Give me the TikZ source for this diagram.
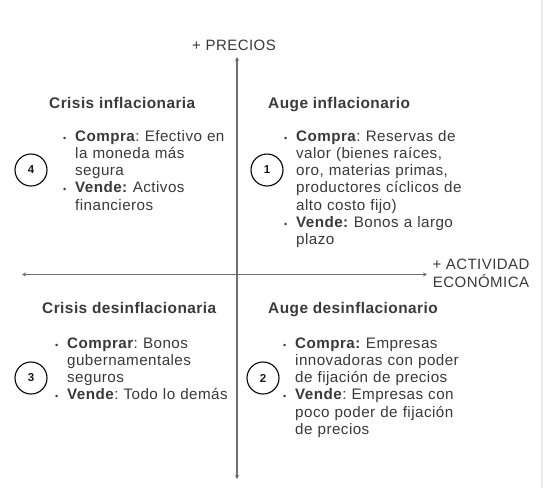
\documentclass[tikz,border=0pt]{standalone}
\usepackage{fontspec}
\setmainfont{Liberation Sans}[LetterSpace=3]
\usetikzlibrary{arrows.meta}
\definecolor{txt}{HTML}{3A3A3A}
\definecolor{axiscol}{HTML}{6E6E6E}
\definecolor{edgecol}{HTML}{EBEBEB}
\frenchspacing
\newcommand{\bul}{\makebox[11pt][l]{\hspace*{-1pt}{\fontsize{9}{9}\selectfont •}}}
\newcommand{\ind}{\hspace*{11pt}}
\begin{document}
\begin{tikzpicture}[x=1pt,y=-1pt,
  title/.style={font=\fontsize{15.4}{17}\selectfont\bfseries\frenchspacing, text=txt, inner sep=0pt, anchor=base west},
  listbox/.style={font=\fontsize{15.2}{17.3}\selectfont\frenchspacing, text=txt, inner sep=0pt, anchor=base west, text width=240pt, align=left},
  axislabel/.style={font=\fontsize{15}{18}\selectfont, text=txt, inner sep=0pt, align=center},
  num/.style={circle, draw=black, line width=1.1pt, minimum size=32pt, inner sep=0pt, font=\fontsize{11.5}{11.5}\selectfont\bfseries, text=black!90},
  axis/.style={draw=axiscol, line width=1.3pt, {Stealth[length=4pt,width=4pt]}-{Stealth[length=4pt,width=4pt]}}
]
\useasboundingbox (0,0) rectangle (544,488);
\fill[white] (0,0) rectangle (544,488);
\draw[edgecol, line width=1.5pt] (542,0) -- (542,488);

% axes
\coordinate (ytop) at (237,57);
\coordinate (ybot) at (237,479);
\coordinate (xleft) at (22,274.5);
\coordinate (xright) at (427,274.5);
\draw[axis] (ybot) -- (ytop);
\draw[axis] (xleft) -- (xright);

\node[axislabel, anchor=base] (precios) at (234,50) {+ PRECIOS};
\node[axislabel, anchor=north] (actividad) at (481,259) {+ ACTIVIDAD\\ECONÓMICA};

% titles
\node[title] (t4) at (49,108) {Crisis inflacionaria};
\node[title] (t1) at (268,108) {Auge inflacionario};
\node[title] (t3) at (42,313) {Crisis desinflacionaria};
\node[title] (t2) at (268,313) {Auge desinflacionario};

% numbers
\node[num] (c4) at (31,170) {4};
\node[num] (c1) at (267,170) {1};
\node[num] (c3) at (31,378) {3};
\node[num] (c2) at (263,378) {2};

% lists
\node[listbox] (l4) at (64,141) {\bul\textbf{Compra}: Efectivo en\\
\ind la moneda más\\
\ind segura\\
\bul\textbf{Vende:} Activos\\
\ind financieros};

\node[listbox] (l1) at (285,141) {\bul\textbf{Compra}: Reservas de\\
\ind valor (bienes raíces,\\
\ind oro, materias primas,\\
\ind productores cíclicos de\\
\ind alto costo fijo)\\
\bul\textbf{Vende:} Bonos a largo\\
\ind plazo};

\node[listbox] (l3) at (56,348) {\bul\textbf{Comprar}: Bonos\\
\ind gubernamentales\\
\ind seguros\\
\bul\textbf{Vende}: Todo lo demás};

\node[listbox] (l2) at (284,348) {\bul\textbf{Compra:} Empresas\\
\ind innovadoras con poder\\
\ind de fijación de precios\\
\bul\textbf{Vende}: Empresas con\\
\ind poco poder de fijación\\
\ind de precios};
\end{tikzpicture}
\end{document}
